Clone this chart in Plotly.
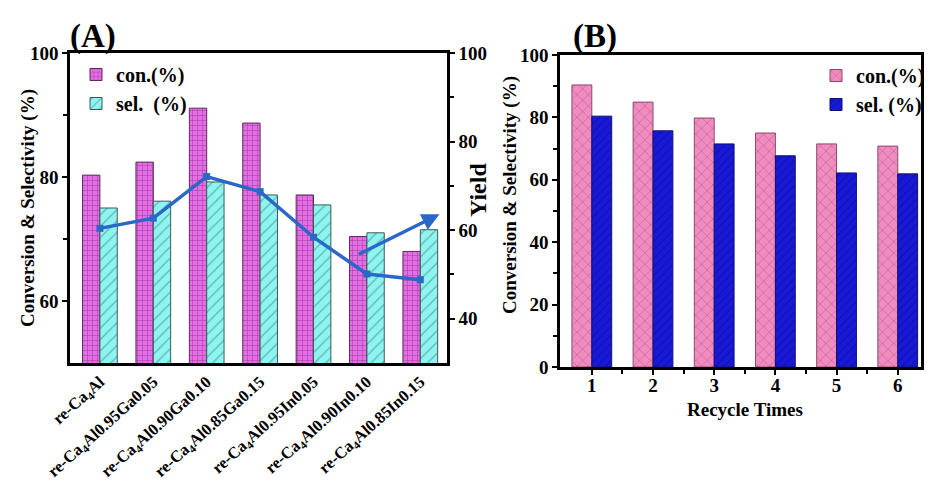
import plotly.graph_objects as go

# %% 데이터 (A)
catalysts = ["re-Ca<sub>4</sub>Al",
             "re-Ca<sub>4</sub>Al0.95Ga0.05",
             "re-Ca<sub>4</sub>Al0.90Ga0.10",
             "re-Ca<sub>4</sub>Al0.85Ga0.15",
             "re-Ca<sub>4</sub>Al0.95In0.05",
             "re-Ca<sub>4</sub>Al0.90In0.10",
             "re-Ca<sub>4</sub>Al0.85In0.15"]
cat_pos = [0, 1, 2, 3, 4, 5, 6]
con_a = [80.3, 82.4, 91.1, 88.7, 77.1, 70.4, 68.0]
sel_a = [75.0, 76.1, 79.2, 77.1, 75.5, 71.0, 71.5]
yield_a = [60.4, 62.7, 72.1, 68.7, 58.4, 50.1, 48.8]

# %% 데이터 (B)
recycle = [1, 2, 3, 4, 5, 6]
con_b = [90.4, 84.9, 79.8, 75.0, 71.5, 70.8]
sel_b = [80.4, 75.7, 71.5, 67.7, 62.2, 61.9]

# 페이지 여백(8px) 보정
W, H, OFF = 937, 473, 8
def px(x):
    return (x - OFF) / W
def py(y):
    return 1 - (y - OFF) / H

FONT = "Liberation Serif"
tickfont = dict(family=FONT, size=19, color="black")
titlefont = dict(family=FONT, size=19, color="black")
legfont = dict(family=FONT, size=20, color="black")

fig = go.Figure()

# 패널 A
fig.add_trace(go.Bar(
    x=cat_pos, y=con_a, name="<b>con.(%)</b>", xaxis="x", yaxis="y",
    marker=dict(color="#e46ee4", line=dict(color="#5a2a5a", width=1),
                pattern=dict(shape="+", fgcolor="#7a1a7a", bgcolor="#e46ee4",
                             size=5, solidity=0.25, fillmode="overlay")),
    offsetgroup="a1", legend="legend"))
fig.add_trace(go.Bar(
    x=cat_pos, y=sel_a, name="<b>sel.  (%)</b>", xaxis="x", yaxis="y",
    marker=dict(color="#8ef4f0", line=dict(color="#3a5a5a", width=1),
                pattern=dict(shape="/", fgcolor="#2f6f6f", bgcolor="#8ef4f0",
                             size=8, solidity=0.15, fillmode="overlay")),
    offsetgroup="a2", legend="legend"))
fig.add_trace(go.Scatter(
    x=cat_pos, y=yield_a, xaxis="x", yaxis="y2", mode="lines+markers",
    line=dict(color="#2a68c8", width=3.5),
    marker=dict(symbol="square", size=7, color="#2a68c8"),
    showlegend=False))

# 패널 B
fig.add_trace(go.Bar(
    x=recycle, y=con_b, name="<b>con.(%)</b>", xaxis="x3", yaxis="y3",
    marker=dict(color="#f08cc0", line=dict(color="#8a4a6a", width=1),
                pattern=dict(shape="x", fgcolor="#9a3068", bgcolor="#f08cc0",
                             size=8, solidity=0.15, fillmode="overlay")),
    offsetgroup="b1", legend="legend2"))
fig.add_trace(go.Bar(
    x=recycle, y=sel_b, name="<b>sel. (%)</b>", xaxis="x3", yaxis="y3",
    marker=dict(color="#1818d8", line=dict(color="#101070", width=1),
                pattern=dict(shape="/", fgcolor="#0a0a80", bgcolor="#1818d8",
                             size=6, solidity=0.2, fillmode="overlay")),
    offsetgroup="b2", legend="legend2"))

axis_common = dict(showline=True, linecolor="black", linewidth=2.5,
                   ticks="outside", tickwidth=2, ticklen=5, tickcolor="black",
                   tickfont=tickfont, showgrid=False, zeroline=False,
                   automargin=False)
minor_common = dict(ticks="outside", ticklen=4, tickcolor="black", tickwidth=2)

fig.update_layout(
    width=W, height=H,
    margin=dict(l=0, r=0, t=0, b=0),
    paper_bgcolor="white", plot_bgcolor="white",
    barmode="group", bargap=0.35, bargroupgap=0,
    showlegend=True,
    xaxis=dict(axis_common, domain=[px(70), px(447)], range=[-0.56, 6.5],
               tickvals=cat_pos, ticktext=["<b>%s</b>" % c for c in catalysts],
               tickangle=-42, tickfont=dict(family=FONT, size=16.5, color="black"),
               ticks="", mirror=True, anchor="y"),
    yaxis=dict(axis_common, domain=[py(363), py(53)], range=[50, 100],
               tickvals=[60, 80, 100], ticktext=["<b>60</b>", "<b>80</b>", "<b>100</b>"],
               minor=dict(minor_common, tickvals=[70, 90]),
               anchor="x"),
    yaxis2=dict(axis_common, domain=[py(363), py(53)], range=[30, 100], overlaying="y",
                side="right", anchor="x",
                tickvals=[40, 60, 80, 100], ticktext=["<b>40</b>", "<b>60</b>", "<b>80</b>", "<b>100</b>"],
                minor=dict(minor_common, tickvals=[50, 70, 90])),
    xaxis3=dict(axis_common, domain=[px(560), px(921)], range=[0.48, 6.38],
                tickvals=recycle, ticktext=["<b>%d</b>" % r for r in recycle],
                minor=dict(minor_common, tickvals=[1.5, 2.5, 3.5, 4.5, 5.5]),
                ticklabelstandoff=-6,
                mirror=True, anchor="y3"),
    yaxis3=dict(axis_common, domain=[py(367), py(55)], range=[0, 100],
                tickvals=[0, 20, 40, 60, 80, 100],
                ticktext=["<b>%d</b>" % v for v in [0, 20, 40, 60, 80, 100]],
                minor=dict(minor_common, tickvals=[10, 30, 50, 70, 90]),
                mirror=True, anchor="x3"),
    legend=dict(x=px(76), y=py(55), xanchor="left", yanchor="top",
                bgcolor="rgba(0,0,0,0)", font=legfont,
                tracegroupgap=0, itemwidth=30),
    legend2=dict(x=px(930), y=py(56), xanchor="right", yanchor="top",
                 bgcolor="rgba(0,0,0,0)", font=legfont,
                 tracegroupgap=0, itemwidth=30),
)

# 축 제목 (주석)
fig.add_annotation(x=px(28), y=py(208), xref="paper", yref="paper",
                   xanchor="center", yanchor="middle",
                   text="<b>Conversion & Selectivity (%)</b>", textangle=-90, showarrow=False,
                   font=titlefont)
fig.add_annotation(x=px(478), y=py(190), xref="paper", yref="paper",
                   xanchor="center", yanchor="middle",
                   text="<b>Yield</b>", textangle=-90, showarrow=False,
                   font=dict(family=FONT, size=24, color="black"))
fig.add_annotation(x=px(510), y=py(195), xref="paper", yref="paper",
                   xanchor="center", yanchor="middle",
                   text="<b>Conversion & Selectivity (%)</b>", textangle=-90, showarrow=False,
                   font=titlefont)
fig.add_annotation(x=px(745), y=py(409), xref="paper", yref="paper",
                   xanchor="center", yanchor="middle",
                   text="<b>Recycle Times</b>", showarrow=False, font=titlefont)

# 화살표 (Yield 축 방향)
fig.add_annotation(x=6.36, y=63.6, ax=4.82, ay=54.4, xref="x", yref="y2",
                   axref="x", ayref="y2", showarrow=True, arrowhead=2,
                   arrowsize=1, arrowwidth=3.5, arrowcolor="#2a68c8", text="")

# 패널 라벨
fig.add_annotation(x=px(68), y=py(16), xref="paper", yref="paper", xanchor="left", yanchor="top",
                   text="<b>(A)</b>", showarrow=False,
                   font=dict(family=FONT, size=33, color="black"))
fig.add_annotation(x=px(571), y=py(16), xref="paper", yref="paper", xanchor="left", yanchor="top",
                   text="<b>(B)</b>", showarrow=False,
                   font=dict(family=FONT, size=33, color="black"))

fig.write_html("out.html")
